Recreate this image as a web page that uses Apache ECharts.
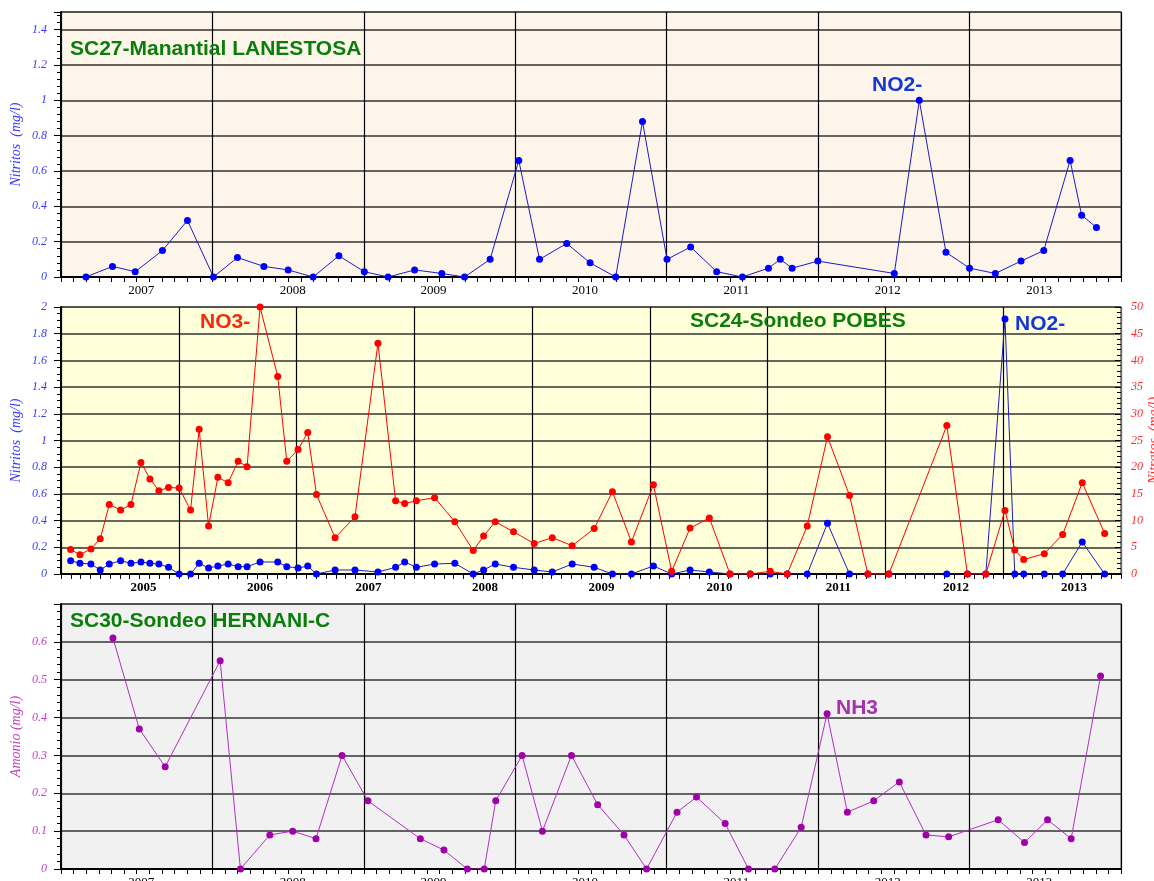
<!DOCTYPE html>
<html>
<head>
<meta charset="utf-8">
<script src="https://cdn.jsdelivr.net/npm/echarts@6.0.0/dist/echarts.min.js"></script>
<style>
html, body { margin: 0; padding: 0; background: #fff; }
#chart { width: 1154px; height: 881px; }
</style>
</head>
<body>
<div id="chart"></div>
<script>
// fechas en años decimales (1 de enero = año entero)

// SC27 - Manantial LANESTOSA, nitritos (mg/l)
var lanFechas = [2007.165, 2007.34, 2007.49, 2007.67, 2007.835, 2008.007, 2008.165, 2008.34, 2008.50, 2008.665,
    2008.835, 2009.003, 2009.16, 2009.335, 2009.515, 2009.665, 2009.834, 2010.023, 2010.16, 2010.34,
    2010.494, 2010.663, 2010.84, 2011.002, 2011.158, 2011.33, 2011.50, 2011.672, 2011.75, 2011.828,
    2011.998, 2012.503, 2012.668, 2012.844, 2013.0, 2013.17, 2013.34, 2013.49, 2013.664, 2013.74, 2013.838];
var lanNO2 = [0, 0.06, 0.03, 0.15, 0.32, 0, 0.11, 0.06, 0.04, 0,
    0.12, 0.03, 0, 0.04, 0.02, 0, 0.10, 0.66, 0.10, 0.19,
    0.08, 0, 0.88, 0.10, 0.17, 0.03, 0, 0.05, 0.10, 0.05,
    0.09, 0.02, 1.0, 0.14, 0.05, 0.02, 0.09, 0.15, 0.66, 0.35, 0.28];

// SC24 - Sondeo POBES, nitritos y nitratos (mg/l)
var pobFechas = [2005.082, 2005.161, 2005.254, 2005.333, 2005.41, 2005.506, 2005.594, 2005.679, 2005.755, 2005.831,
    2005.913, 2006.003, 2006.10, 2006.173, 2006.253, 2006.332, 2006.419, 2006.504, 2006.58, 2006.69,
    2006.84, 2006.917, 2007.013, 2007.095, 2007.169, 2007.327, 2007.496, 2007.691, 2007.841, 2007.918,
    2008.017, 2008.172, 2008.344, 2008.50, 2008.588, 2008.687, 2008.842, 2009.018, 2009.171, 2009.34,
    2009.527, 2009.682, 2009.843, 2010.03, 2010.185, 2010.341, 2010.505, 2010.68, 2010.852, 2011.022,
    2011.166, 2011.336, 2011.508, 2011.695, 2011.851, 2012.029, 2012.521, 2012.696, 2012.852, 2013.015,
    2013.098, 2013.174, 2013.349, 2013.505, 2013.671, 2013.861];
var pobNO3 = [4.6, 3.6, 4.7, 6.6, 13.0, 12.0, 13.0, 20.9, 17.8, 15.6,
    16.2, 16.1, 12.0, 27.1, 9.0, 18.1, 17.1, 21.1, 20.1, 50,
    37.0, 21.1, 23.3, 26.5, 14.9, 6.8, 10.7, 43.2, 13.7, 13.2,
    13.7, 14.3, 9.8, 4.4, 7.1, 9.8, 7.9, 5.7, 6.8, 5.3,
    8.5, 15.4, 6.0, 16.7, 0.5, 8.6, 10.5, 0, 0, 0.5,
    0, 9.0, 25.7, 14.7, 0, 0, 27.8, 0, 0, 11.9,
    4.5, 2.7, 3.8, 7.4, 17.1, 7.6];
var pobNO2 = [0.10, 0.08, 0.075, 0.03, 0.075, 0.10, 0.08, 0.09, 0.08, 0.075,
    0.05, 0, 0, 0.08, 0.045, 0.06, 0.075, 0.055, 0.055, 0.09,
    0.09, 0.055, 0.045, 0.06, 0, 0.03, 0.03, 0.015, 0.05, 0.09,
    0.05, 0.075, 0.08, 0, 0.03, 0.075, 0.05, 0.03, 0.015, 0.075,
    0.05, 0, 0, 0.06, 0, 0.03, 0.015, 0, 0, 0,
    0, 0, 0.38, 0, 0, 0, 0, 0, 0, 1.91,
    0, 0, 0, 0, 0.24, 0];

// SC30 - Sondeo HERNANI-C, amonio (mg/l)
var herFechas = [2007.343, 2007.517, 2007.688, 2008.051, 2008.185, 2008.379, 2008.53, 2008.684, 2008.856, 2009.027,
    2009.373, 2009.529, 2009.683, 2009.795, 2009.871, 2010.045, 2010.179, 2010.371, 2010.544, 2010.718,
    2010.867, 2011.068, 2011.197, 2011.386, 2011.54, 2011.714, 2011.888, 2012.059, 2012.193, 2012.367,
    2012.536, 2012.712, 2012.862, 2013.189, 2013.363, 2013.515, 2013.671, 2013.865];
var herNH3 = [0.61, 0.37, 0.27, 0.55, 0, 0.09, 0.10, 0.08, 0.30, 0.18,
    0.08, 0.05, 0, 0, 0.18, 0.30, 0.10, 0.30, 0.17, 0.09,
    0, 0.15, 0.19, 0.12, 0, 0, 0.11, 0.41, 0.15, 0.18,
    0.23, 0.09, 0.085, 0.13, 0.07, 0.13, 0.08, 0.51];

// donde van las etiquetas de año en cada eje
var etiqAnyos0713 = [2007.53, 2008.53, 2009.46, 2010.46, 2011.46, 2012.46, 2013.46];
var etiqAnyos0513 = [2005.70, 2006.69, 2007.61, 2008.60, 2009.59, 2010.59, 2011.60, 2012.60, 2013.60];

var serif = '"Liberation Serif", "Times New Roman", serif';
var sans = '"Liberation Sans", Arial, sans-serif';

function pares(f, v) {
    return f.map(function (x, i) { return [x, v[i]]; });
}

function ejeX(grid, min, max, etiquetas, negrita) {
    return {
        type: 'value', gridIndex: grid, min: min, max: max, interval: 1,
        axisLine: { show: true, onZero: false, lineStyle: { color: '#000', width: 2 } },
        axisTick: { show: true, length: 5, lineStyle: { color: '#000', width: 1 } },
        minorTick: { show: true, splitNumber: 12, length: 5, lineStyle: { color: '#000', width: 1 } },
        splitLine: { show: true, lineStyle: { color: '#000', width: 1.2 } },
        axisLabel: {
            customValues: etiquetas,
            formatter: function (v) { return String(Math.floor(v)); },
            color: '#000', fontFamily: serif, fontSize: 13,
            fontWeight: negrita ? 'bold' : 'normal', margin: 7
        }
    };
}

function ejeY(grid, max, paso, menores, color, nombre, lado) {
    var dcha = lado === 'right';
    return {
        type: 'value', gridIndex: grid, position: lado, min: 0, max: max, interval: paso,
        name: nombre, nameLocation: 'middle', nameRotate: 90, nameGap: dcha ? 26 : 38,
        nameMoveOverlap: false,
        nameTextStyle: { color: color, fontFamily: serif, fontStyle: 'italic', fontSize: 14 },
        axisLine: { show: true, onZero: false, lineStyle: { color: dcha ? '#888' : '#000', width: dcha ? 1.5 : 2 } },
        axisTick: { show: true, inside: dcha, length: dcha ? 6 : 7, lineStyle: { color: '#000', width: 1 } },
        minorTick: { show: true, splitNumber: menores, length: 4, lineStyle: { color: '#000', width: 1 } },
        splitLine: { show: !dcha, lineStyle: { color: '#333', width: 1.5 } },
        axisLabel: {
            color: color, fontFamily: serif, fontStyle: 'italic', fontSize: 12,
            margin: dcha ? 10 : 14, showMaxLabel: max / paso === Math.round(max / paso)
        }
    };
}

function serie(nombre, x, y, datos, cLinea, cPunto) {
    return {
        name: nombre, type: 'line', xAxisIndex: x, yAxisIndex: y,
        data: datos, symbol: 'circle', symbolSize: 7,
        lineStyle: { color: cLinea, width: 1 },
        itemStyle: { color: cPunto },
        animation: false
    };
}

function rejilla(top, alto, fondo) {
    return {
        left: 61, right: 33, top: top, height: alto, outerBoundsMode: 'none', containLabel: false,
        show: true, backgroundColor: fondo, borderColor: '#999', borderWidth: 1.5
    };
}

var textos = [
    { t: 'SC27-Manantial LANESTOSA', x: 70, y: 49, c: '#0a7d0a' },
    { t: 'NO2-', x: 872, y: 85, c: '#1238d8' },
    { t: 'NO3-', x: 200, y: 322, c: '#f8290c' },
    { t: 'SC24-Sondeo POBES', x: 690, y: 321, c: '#0a7d0a' },
    { t: 'NO2-', x: 1015, y: 324, c: '#1238d8' },
    { t: 'SC30-Sondeo HERNANI-C', x: 70, y: 621, c: '#0a7d0a' },
    { t: 'NH3', x: 836, y: 708, c: '#a532ae' }
];

var chart = echarts.init(document.getElementById('chart'));

var option = {
    animation: false,
    grid: [
        rejilla(12, 265, '#fdf5ea'),
        rejilla(307, 267, '#ffffda'),
        rejilla(604, 265, '#f1f1f1')
    ],
    xAxis: [
        ejeX(0, 2007, 2014, etiqAnyos0713, false),
        ejeX(1, 2005, 2014, etiqAnyos0513, true),
        ejeX(2, 2007, 2014, etiqAnyos0713, false)
    ],
    yAxis: [
        ejeY(0, 1.5, 0.2, 5, '#3a3aff', 'Nitritos  (mg/l)', 'left'),
        ejeY(1, 2, 0.2, 4, '#3a3aff', 'Nitritos  (mg/l)', 'left'),
        ejeY(1, 50, 5, 5, '#ff2a2a', 'Nitratos  (mg/l)', 'right'),
        ejeY(2, 0.7, 0.1, 5, '#c040c0', 'Amonio (mg/l)', 'left')
    ],
    series: [
        serie('NO2- LANESTOSA', 0, 0, pares(lanFechas, lanNO2), '#1c1cc0', '#0000ff'),
        serie('NO2- POBES', 1, 1, pares(pobFechas, pobNO2), '#1c1cc0', '#0000ff'),
        serie('NO3- POBES', 1, 2, pares(pobFechas, pobNO3), '#ff0000', '#ff0000'),
        serie('NH3 HERNANI-C', 2, 3, pares(herFechas, herNH3), '#b030c0', '#a000a8')
    ],
    graphic: textos.map(function (a) {
        return {
            type: 'text', x: a.x, y: a.y, z: 100,
            style: {
                text: a.t, fill: a.c, font: 'bold 21px ' + sans,
                verticalAlign: 'middle', textVerticalAlign: 'middle'
            }
        };
    })
};

chart.setOption(option);
</script>
</body>
</html>
